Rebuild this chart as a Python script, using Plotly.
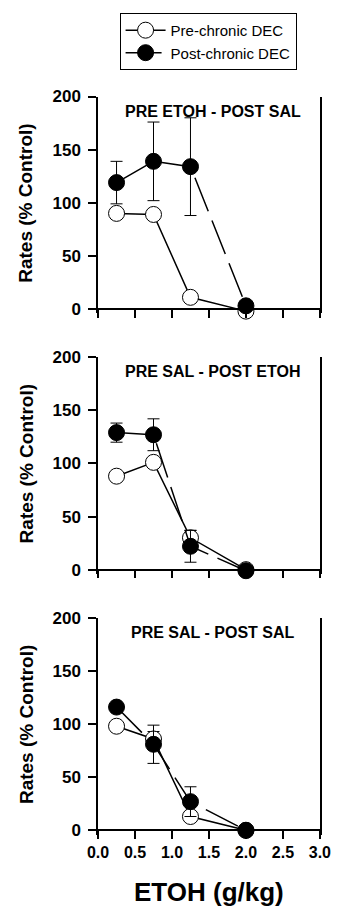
import plotly.graph_objects as go

# ---- data ----
x_dose = [0.25, 0.75, 1.25, 2.0]
panel_titles = ["PRE ETOH - POST SAL", "PRE SAL - POST ETOH", "PRE SAL - POST SAL"]
series_names = ["Pre-chronic DEC", "Post-chronic DEC"]
pre_vals = [[90, 89, 11, -2], [88, 101, 30, 0], [98, 86, 13, 0]]
pre_err = [[0, 0, 0, 0], [0, 0, 7, 0], [0, 7, 0, 0]]
post_vals = [[119, 139, 134, 3], [129, 127, 22, -1], [116, 81, 27, 0]]
post_err = [[20, 37, 46, 0], [9, 15, 15, 0], [0, 18, 14, 0]]
x_ticks = [0.0, 0.5, 1.0, 1.5, 2.0, 2.5, 3.0]
x_ticklabels = ["0.0", "0.5", "1.0", "1.5", "2.0", "2.5", "3.0"]
y_ticks = [0, 50, 100, 150, 200]
y_title = "Rates (% Control)"
x_title = "ETOH (g/kg)"

W, H = 344, 916
FONT = "Liberation Sans, Arial, Helvetica, sans-serif"

# pixel layout of panels (top, bottom = y 0 line)
panel_px = [(89, 305), (354, 570), (619, 835)]
x_px = (93, 330)
Y_MIN = -4  # small headroom below 0 so markers at/below 0 stay visible

fig = go.Figure()

for i in range(3):
    ax = "" if i == 0 else str(i + 1)
    fig.add_trace(go.Scatter(
        x=x_dose, y=pre_vals[i], mode="lines+markers", name=series_names[0],
        xaxis="x" + ax, yaxis="y" + ax, showlegend=(i == 0), cliponaxis=False,
        line=dict(color="black", width=1.5),
        marker=dict(symbol="circle", size=16, color="white",
                    line=dict(color="black", width=1)),
        error_y=dict(type="data", array=pre_err[i], color="black",
                     thickness=1, width=6),
    ))
    fig.add_trace(go.Scatter(
        x=x_dose, y=post_vals[i], mode="lines+markers", name=series_names[1],
        xaxis="x" + ax, yaxis="y" + ax, showlegend=(i == 0), cliponaxis=False,
        line=dict(color="black", width=1.5, dash="36px,10px"),
        marker=dict(symbol="circle", size=16, color="black",
                    line=dict(color="black", width=1)),
        error_y=dict(type="data", array=post_err[i], color="black",
                     thickness=1, width=6),
    ))

layout = dict(
    width=W, height=H, margin=dict(l=0, r=0, t=0, b=0),
    paper_bgcolor="white", plot_bgcolor="white",
    font=dict(family=FONT, color="black"),
    legend=dict(x=116 / W, y=1 - 4 / H, xanchor="left", yanchor="top",
                bordercolor="black", borderwidth=1, bgcolor="white",
                font=dict(size=15, family=FONT), itemwidth=40,
                tracegroupgap=0),
    annotations=[],
)

for i in range(3):
    top, bot = panel_px[i]
    ppu = (bot - top) / 200.0
    bot_ext = bot - Y_MIN * ppu
    ydom = [1 - bot_ext / H, 1 - top / H]
    xdom = [x_px[0] / W, x_px[1] / W]
    sfx = "" if i == 0 else str(i + 1)
    layout["xaxis" + sfx] = dict(
        domain=xdom, range=[0, 3], anchor="free", position=1 - bot / H,
        tickmode="array", tickvals=x_ticks, ticktext=x_ticklabels,
        showticklabels=(i == 2), ticks="outside", ticklen=8, tickwidth=1.5,
        tickcolor="black", showline=True, linecolor="black", linewidth=1.5,
        mirror=True, showgrid=False, zeroline=False,
        tickfont=dict(size=16, family=FONT, weight="bold"),
    )
    layout["yaxis" + sfx] = dict(
        domain=ydom, range=[Y_MIN, 200], anchor="x" + sfx,
        tickmode="array", tickvals=y_ticks,
        ticks="outside", ticklen=8, tickwidth=1.5, tickcolor="black",
        showline=True, linecolor="black", linewidth=1.5, mirror=True,
        showgrid=False, zeroline=False, ticklabelstandoff=4,
        tickfont=dict(size=17, family=FONT, weight="bold"),
    )
    layout["annotations"].append(dict(
        text="<b>" + panel_titles[i] + "</b>", xref="paper", yref="paper",
        x=(x_px[0] + x_px[1]) / 2 / W + 0.012, y=1 - (top + 15) / H,
        xanchor="center", yanchor="middle", showarrow=False,
        font=dict(size=16, family=FONT, color="black"),
    ))
    layout["annotations"].append(dict(
        text="<b>" + y_title + "</b>", xref="paper", yref="paper",
        x=16 / W, y=1 - (top + bot) / 2 / H, textangle=-90,
        xanchor="center", yanchor="middle", showarrow=False,
        font=dict(size=19, family=FONT, color="black"),
    ))

layout["annotations"].append(dict(
    text="<b>" + x_title + "</b>", xref="paper", yref="paper",
    x=(x_px[0] + x_px[1]) / 2 / W, y=1 - 898 / H,
    xanchor="center", yanchor="middle", showarrow=False,
    font=dict(size=26, family=FONT, color="black"),
))

fig.update_layout(**layout)
fig.write_html("out.html")
